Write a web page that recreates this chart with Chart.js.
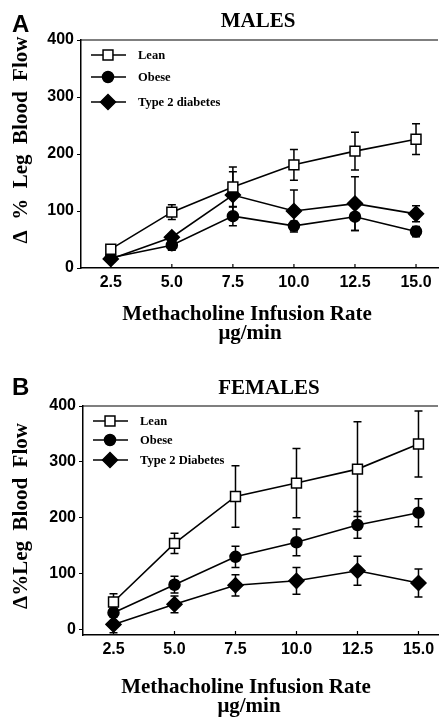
<!DOCTYPE html>
<html>
<head>
<meta charset="utf-8">
<script src="https://cdn.jsdelivr.net/npm/chart.js@4.4.1/dist/chart.umd.min.js"></script>
<style>
  body { margin: 0; background: #fff; }
  canvas { display: block; }
</style>
</head>
<body>
<canvas id="malesChart" width="447" height="360"></canvas>
<canvas id="femalesChart" width="447" height="359"></canvas>
<script>
// x positions (methacholine infusion rate, ug/min) and axis ticks
const doses = [2.5, 5.0, 7.5, 10.0, 12.5, 15.0];
const flowTicks = [0, 100, 200, 300, 400];

// MALES: mean and SE of delta % leg blood flow
const maleLean = [33, 98, 142, 181, 205, 226];
const maleLeanErr = [5, 13, 35, 27, 33, 27];
const maleObese = [18, 40, 91, 74, 90, 64];
const maleObeseErr = [4, 9, 17, 8, 24, 9];
const maleDiabetes = [16, 54, 128, 100, 113, 95];
const maleDiabetesErr = [4, 6, 41, 37, 47, 14];
const maleNames = ["Lean", "Obese", "Type 2 diabetes"];

// FEMALES
const femaleLean = [49, 154, 238, 262, 287, 332];
const femaleLeanErr = [15, 18, 55, 62, 85, 59];
const femaleObese = [30, 80, 130, 156, 187, 209];
const femaleObeseErr = [8, 15, 19, 24, 24, 25];
const femaleDiabetes = [9, 45, 79, 87, 105, 83];
const femaleDiabetesErr = [15, 15, 19, 24, 26, 25];
const femaleNames = ["Lean", "Obese", "Type 2 Diabetes"];

const SERIF = '"Liberation Serif", "Times New Roman", serif';
const SANS = '"Liberation Sans", Arial, sans-serif';

// marker style per group (lean / obese / diabetes)
const markers = [
  { pointStyle: "rect", radius: 7, fill: "#fff" },
  { pointStyle: "circle", radius: 5.5, fill: "#000" },
  { pointStyle: "rectRot", radius: 7.5, fill: "#000" },
];

function series(name, vals, errs, k) {
  return {
    label: name,
    data: doses.map((d, i) => ({ x: d, y: vals[i] })),
    errors: errs,
    borderColor: "#000",
    borderWidth: 1.6,
    pointStyle: markers[k].pointStyle,
    pointRadius: markers[k].radius,
    pointBackgroundColor: markers[k].fill,
    pointBorderColor: "#000",
    pointBorderWidth: 1.5,
    tension: 0,
  };
}

// vertical error bars with caps, behind the markers
const errorBars = {
  id: "errorBars",
  beforeDatasetsDraw(chart) {
    const { ctx, scales: { x, y } } = chart;
    ctx.save();
    ctx.strokeStyle = "#000";
    ctx.lineWidth = 1.5;
    chart.data.datasets.forEach((ds) => {
      ds.data.forEach((p, i) => {
        const e = ds.errors[i];
        const px = x.getPixelForValue(p.x);
        const top = y.getPixelForValue(p.y + e);
        const bot = y.getPixelForValue(p.y - e);
        ctx.beginPath();
        ctx.moveTo(px, top); ctx.lineTo(px, bot);
        ctx.moveTo(px - 4, top); ctx.lineTo(px + 4, top);
        ctx.moveTo(px - 4, bot); ctx.lineTo(px + 4, bot);
        ctx.stroke();
      });
    });
    ctx.restore();
  },
};

// frame top line, inward x ticks, titles and the line+marker legend
const decorations = {
  id: "decorations",
  afterDraw(chart, args, o) {
    const { ctx, chartArea: a, scales: { x } } = chart;
    ctx.save();
    ctx.strokeStyle = "#000";
    ctx.lineWidth = 1.2;
    ctx.beginPath();
    ctx.moveTo(a.left, a.top); ctx.lineTo(a.right, a.top);
    doses.forEach((d) => {
      const px = x.getPixelForValue(d);
      ctx.moveTo(px, a.bottom); ctx.lineTo(px, a.bottom - 4);
    });
    ctx.stroke();

    ctx.fillStyle = "#000";
    // panel letter
    ctx.font = "bold 24px " + SANS;
    ctx.textAlign = "left";
    ctx.textBaseline = "alphabetic";
    ctx.fillText(o.letter, 12, o.letterY);
    // panel title
    ctx.font = "bold 21px " + SERIF;
    ctx.textAlign = "center";
    ctx.fillText(o.title, o.titleX, o.titleY);
    // x axis title, two lines
    ctx.fillText("Methacholine Infusion Rate", o.xTitleX, o.xTitleY);
    ctx.fillText("\u03BCg/min", o.xTitleX + 3, o.xTitleY + 19);
    // y axis title
    ctx.save();
    ctx.translate(27, o.yTitleY);
    ctx.rotate(-Math.PI / 2);
    ctx.fillText(o.yTitle, 0, 0);
    ctx.restore();

    // legend
    ctx.font = "bold 12.5px " + SERIF;
    ctx.textAlign = "left";
    ctx.textBaseline = "middle";
    chart.data.datasets.forEach((ds, k) => {
      const ly = o.legendY[k];
      ctx.lineWidth = 1.6;
      ctx.beginPath();
      ctx.moveTo(o.legendX, ly); ctx.lineTo(o.legendX + 35, ly);
      ctx.stroke();
      ctx.fillStyle = ds.pointBackgroundColor;
      ctx.lineWidth = 1.5;
      Chart.helpers.drawPoint(ctx, {
        pointStyle: ds.pointStyle, radius: ds.pointRadius, rotation: 0, borderWidth: 1.5,
      }, o.legendX + 17, ly);
      ctx.fillStyle = "#000";
      ctx.fillText(ds.label, o.legendX + 47, ly + 1);
    });
    ctx.restore();
  },
};

function makePanel(id, sets, p) {
  return new Chart(document.getElementById(id), {
    type: "line",
    data: { datasets: sets },
    options: {
      responsive: false,
      animation: false,
      devicePixelRatio: 1,
      layout: { padding: { top: p.top, right: p.right, left: 0, bottom: 0 } },
      plugins: {
        legend: { display: false },
        tooltip: { enabled: false },
        decorations: p.deco,
      },
      scales: {
        x: {
          type: "linear",
          min: p.xMin,
          max: p.xMax,
          afterBuildTicks: (s) => { s.ticks = doses.map((v) => ({ value: v })); },
          afterFit: (s) => { s.height = p.xHeight; },
          ticks: {
            color: "#000",
            font: { family: SANS, size: 16, weight: "bold" },
            padding: 5,
            maxRotation: 0,
            callback: (v) => v.toFixed(1),
          },
          grid: { display: true, drawOnChartArea: false, drawTicks: false },
          border: { display: true, color: "#000", width: 1.5 },
        },
        y: {
          min: p.yMin,
          max: 400,
          afterBuildTicks: (s) => { s.ticks = flowTicks.map((v) => ({ value: v })); },
          afterFit: (s) => { s.width = p.yWidth; },
          ticks: {
            color: "#000",
            font: { family: SANS, size: 16, weight: "bold" },
            padding: 3,
          },
          grid: { display: true, drawOnChartArea: false, drawTicks: true, tickLength: 4, color: "#000" },
          border: { display: true, color: "#000", width: 1.5 },
        },
      },
    },
    plugins: [errorBars, decorations],
  });
}

makePanel("malesChart", [
  series(maleNames[0], maleLean, maleLeanErr, 0),
  series(maleNames[1], maleObese, maleObeseErr, 1),
  series(maleNames[2], maleDiabetes, maleDiabetesErr, 2),
], {
  top: 40, right: 7, xHeight: 92, yWidth: 81, xMin: 1.28, xMax: 15.9, yMin: 0,
  deco: {
    letter: "A", letterY: 32, title: "MALES", titleX: 258, titleY: 27,
    xTitleX: 247, xTitleY: 320, yTitle: "\u0394  %  Leg  Blood  Flow", yTitleY: 140,
    legendX: 91, legendY: [55, 77, 102],
  },
});

makePanel("femalesChart", [
  series(femaleNames[0], femaleLean, femaleLeanErr, 0),
  series(femaleNames[1], femaleObese, femaleObeseErr, 1),
  series(femaleNames[2], femaleDiabetes, femaleDiabetesErr, 2),
], {
  top: 46, right: 6, xHeight: 84, yWidth: 83, xMin: 1.25, xMax: 15.8, yMin: -10,
  deco: {
    letter: "B", letterY: 35, title: "FEMALES", titleX: 269, titleY: 34,
    xTitleX: 246, xTitleY: 333, yTitle: "\u0394%Leg  Blood  Flow", yTitleY: 156,
    legendX: 93, legendY: [61, 80, 100],
  },
});
</script>
</body>
</html>
